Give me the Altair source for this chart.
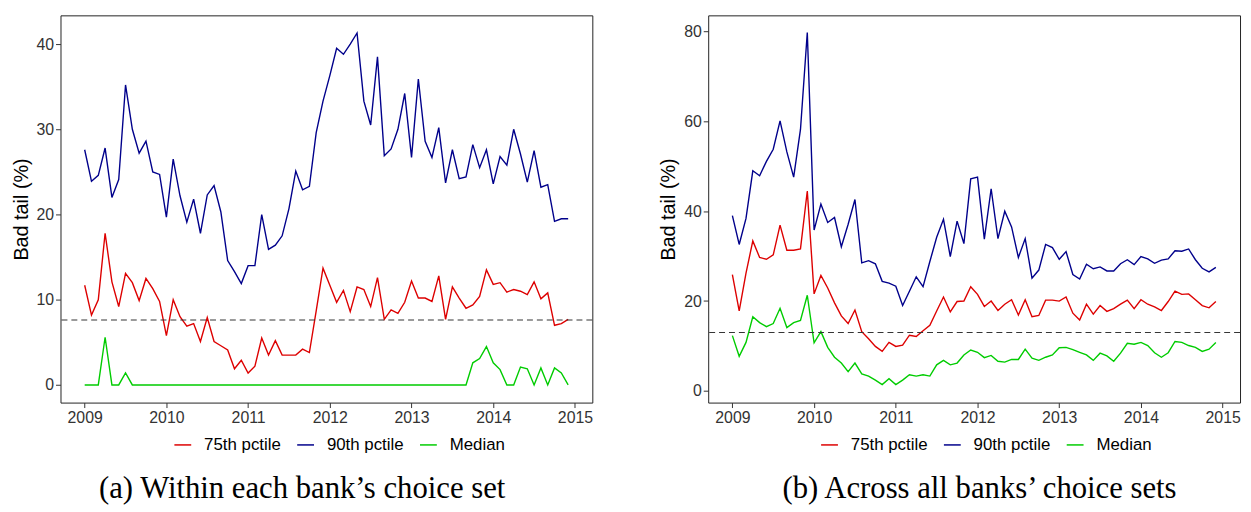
import altair as alt
import pandas as pd

start_year = 2009
series_names = ["75th pctile", "90th pctile", "Median"]
series_colors = ["#DD0000", "#00008B", "#00CC00"]
x_ticks = [2009, 2010, 2011, 2012, 2013, 2014, 2015]

# Panel (a): within each bank's choice set
a_p75 = [11.7, 8.2, 10.0, 17.8, 12.1, 9.2, 13.1, 12.0, 9.9, 12.5, 11.3, 9.8,
         5.8, 10.0, 8.0, 6.9, 7.2, 5.1, 7.9, 5.1, 4.6, 4.1, 1.9, 2.9,
         1.4, 2.2, 5.5, 3.5, 5.2, 3.5, 3.5, 3.5, 4.2, 3.8, 8.7, 13.7,
         11.7, 9.7, 11.1, 8.6, 11.5, 11.2, 9.2, 12.6, 7.7, 8.8, 8.4, 9.7,
         12.2, 10.2, 10.2, 9.8, 12.8, 7.7, 11.5, 10.2, 9.0, 9.4, 10.4, 13.5,
         11.8, 12.0, 10.9, 11.2, 11.0, 10.6, 12.1, 10.1, 10.8, 7.0, 7.2, 7.7]
a_p90 = [27.6, 23.9, 24.6, 27.8, 22.0, 24.1, 35.2, 30.0, 27.2, 28.6, 25.0, 24.7,
         19.7, 26.5, 22.2, 19.1, 21.8, 17.8, 22.3, 23.4, 20.3, 14.6, 13.3, 11.9,
         14.0, 14.0, 20.0, 15.9, 16.4, 17.5, 20.7, 25.1, 22.9, 23.3, 29.6, 33.3,
         36.3, 39.5, 38.8, 40.0, 41.3, 33.3, 30.5, 38.5, 26.9, 27.7, 30.0, 34.2,
         26.7, 35.9, 28.6, 26.7, 30.2, 23.7, 27.6, 24.2, 24.4, 28.2, 25.5, 27.6,
         23.6, 26.8, 25.8, 30.0, 27.1, 23.8, 27.5, 23.2, 23.5, 19.2, 19.5, 19.5]
a_med = [0, 0, 0, 5.6, 0, 0, 1.4, 0, 0, 0, 0, 0,
         0, 0, 0, 0, 0, 0, 0, 0, 0, 0, 0, 0,
         0, 0, 0, 0, 0, 0, 0, 0, 0, 0, 0, 0,
         0, 0, 0, 0, 0, 0, 0, 0, 0, 0, 0, 0,
         0, 0, 0, 0, 0, 0, 0, 0, 0, 2.6, 3.1, 4.5,
         2.6, 1.8, 0, 0, 2.1, 1.9, 0, 2.0, 0, 2.0, 1.4, 0]
a_ref = 7.62
a_ydomain = [-2.07, 43.37]
a_yticks = [0, 10, 20, 30, 40]

# Panel (b): across all banks' choice sets
b_p75 = [25.9, 17.8, 26.2, 33.4, 29.7, 29.3, 30.3, 36.9, 31.3, 31.3, 31.6, 44.5,
         21.6, 25.7, 22.9, 19.6, 16.7, 15.0, 18.0, 13.2, 11.6, 9.9, 8.8, 10.8,
         9.9, 10.2, 12.4, 12.1, 13.4, 14.6, 17.8, 20.9, 17.6, 19.9, 20.0, 23.2,
         21.5, 18.8, 20.0, 17.9, 19.3, 20.3, 16.9, 20.3, 16.5, 16.8, 20.2, 20.2,
         20.0, 20.9, 17.3, 15.8, 19.3, 17.1, 19.0, 17.7, 18.3, 19.3, 20.2, 18.3,
         20.3, 19.3, 18.7, 17.9, 19.9, 22.2, 21.5, 21.6, 20.3, 19.0, 18.5, 19.9]
b_p90 = [39.0, 32.6, 38.4, 49.0, 47.9, 51.1, 53.8, 60.1, 53.2, 47.6, 58.2, 79.8,
         35.8, 41.6, 37.5, 38.6, 32.1, 37.1, 42.6, 28.5, 29.0, 28.3, 24.4, 24.0,
         23.3, 19.0, 22.2, 25.4, 23.2, 28.8, 34.2, 38.2, 29.9, 37.8, 32.8, 47.2,
         47.6, 33.8, 45.0, 33.9, 40.0, 36.5, 29.7, 33.9, 25.1, 26.9, 32.6, 31.9,
         29.3, 31.0, 25.9, 24.9, 28.2, 27.2, 27.6, 26.7, 26.7, 28.3, 29.2, 28.1,
         29.9, 29.4, 28.4, 29.1, 29.4, 31.2, 31.1, 31.6, 29.2, 27.3, 26.5, 27.5]
b_med = [12.3, 7.7, 10.8, 16.5, 15.2, 14.3, 15.0, 18.4, 14.1, 15.2, 15.7, 21.3,
         10.7, 13.2, 9.7, 7.5, 6.2, 4.3, 6.2, 3.8, 3.3, 2.4, 1.4, 2.7,
         1.4, 2.4, 3.6, 3.3, 3.6, 3.3, 5.8, 6.8, 5.8, 6.2, 8.0, 9.1,
         8.6, 7.4, 7.9, 6.6, 6.4, 7.0, 7.0, 9.3, 7.3, 6.8, 7.5, 8.0,
         9.6, 9.7, 9.2, 8.6, 8.0, 6.8, 8.4, 7.8, 6.6, 8.4, 10.6, 10.4,
         10.8, 10.1, 8.5, 7.5, 8.5, 11.0, 10.8, 10.1, 9.7, 8.8, 9.3, 10.8]
b_ref = 13.0
b_ydomain = [-2.6, 83.6]
b_yticks = [0, 20, 40, 60, 80]

captions = ["(a) Within each bank\u2019s choice set",
            "(b) Across all banks\u2019 choice sets"]

x_domain = [2008.704, 2015.2125]
W, H = 537, 391


def panel(p75, p90, med, ref, ydom, yticks, caption, cap_x, leg_x):
    n = len(p75)
    t = [start_year + i / 12 for i in range(n)]
    df = pd.DataFrame({
        "t": t * 3,
        "v": p75 + p90 + med,
        "s": [series_names[0]] * n + [series_names[1]] * n + [series_names[2]] * n,
    })
    xenc = alt.X("t:Q", scale=alt.Scale(domain=x_domain, nice=False, zero=False),
                 axis=alt.Axis(values=x_ticks, format="d", title=None))
    yaxis = alt.Axis(values=yticks, title="Bad tail (%)", titlePadding=5)
    yscale = alt.Scale(domain=ydom, nice=False, zero=False)
    lines = alt.Chart(df).mark_line(strokeWidth=1.4).encode(
        x=xenc,
        y=alt.Y("v:Q", scale=yscale, axis=yaxis),
        color=alt.Color("s:N", scale=alt.Scale(domain=series_names, range=series_colors),
                        legend=alt.Legend(orient="none", legendX=leg_x, legendY=424,
                                          direction="horizontal", title=None,
                                          symbolType="stroke", symbolSize=289,
                                          symbolStrokeWidth=1.5, labelFontSize=17,
                                          labelFont="Liberation Sans", labelColor="black",
                                          labelOffset=12, columnPadding=13, padding=0)),
        detail="s:N",
    )
    rule = alt.Chart(pd.DataFrame({"v": [ref]})).mark_rule(
        strokeDash=[6, 4], color="#333333", strokeWidth=1
    ).encode(y=alt.Y("v:Q", scale=yscale, axis=yaxis))
    cap = alt.Chart(pd.DataFrame({"c": [caption]})).mark_text(
        font="Liberation Serif", fontSize=31, align="center", baseline="alphabetic",
        color="black"
    ).encode(text="c:N", x=alt.value(cap_x), y=alt.value(487))
    return alt.layer(lines, rule, cap).properties(width=W, height=H)


pa = panel(a_p75, a_p90, a_med, a_ref, a_ydomain, a_yticks, captions[0], 244, 114)
pb = panel(b_p75, b_p90, b_med, b_ref, b_ydomain, b_yticks, captions[1], 274, 113)

chart = alt.hconcat(pa, pb, spacing=65).resolve_scale(
    x="independent", y="independent", color="independent"
).resolve_legend(color="independent").properties(
    padding={"left": 2, "top": 4, "right": 2, "bottom": 0}
).configure_view(
    stroke="#222222", strokeWidth=1
).configure_axis(
    grid=False, domain=False, tickColor="#333333", tickSize=5, tickWidth=1,
    labelFont="Liberation Sans", labelFontSize=16, labelColor="#333333", labelPadding=2,
    titleFont="Liberation Sans", titleFontSize=20, titleFontWeight="normal", titleColor="black"
)

chart.save("out.html", embed_options={"renderer": "svg", "actions": False})
